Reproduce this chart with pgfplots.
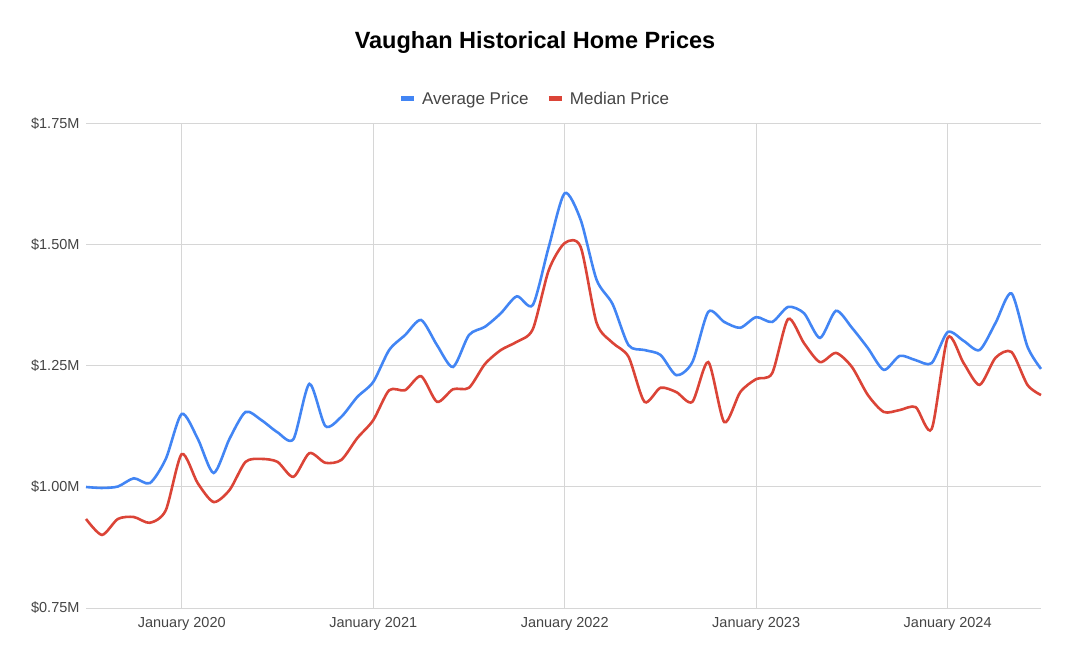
\documentclass[border=0pt]{standalone}
\usepackage{fontspec}
\setmainfont{Liberation Sans}
\usepackage{pgfplots}
\pgfplotsset{compat=1.18}
\definecolor{avgblue}{HTML}{4285F4}
\definecolor{medred}{HTML}{DB4437}
\definecolor{gridgray}{HTML}{D6D6D6}
\definecolor{txtgray}{HTML}{444444}
\begin{document}
\begin{tikzpicture}
\useasboundingbox (0,0) rectangle (1071bp,655bp);
\begin{axis}[
  at={(86bp,47bp)}, anchor=south west,
  scale only axis, width=955bp, height=484bp,
  xmin=0, xmax=59.85, ymin=0.75, ymax=1.75,
  xtick={6,18,30,42,54},
  xticklabels={January 2020,January 2021,January 2022,January 2023,January 2024},
  ytick={0.75,1.00,1.25,1.50,1.75},
  yticklabels={\$0.75M,\$1.00M,\$1.25M,\$1.50M,\$1.75M},
  grid=major,
  major grid style={gridgray, line width=1bp},
  axis line style={draw=none},
  tick style={draw=none},
  ticklabel style={font=\fontsize{14.5bp}{16bp}\selectfont, text=txtgray},
  xticklabel style={yshift=-6bp},
  yticklabel style={xshift=-3bp},
  legend columns=2,
  legend style={draw=none, fill=none, at={(rel axis cs:0.470,1.0517)}, anchor=center,
    font=\fontsize{17bp}{19bp}\selectfont, text=txtgray,
    /tikz/every even column/.append style={column sep=16bp}},
  legend image code/.code={\path[draw=none,fill=none] (0bp,0bp) -- (19bp,0bp);\draw[line width=5bp,#1] (0bp,0bp) -- (13bp,0bp);},
  clip=false,
]
\addplot[avgblue, line width=2.6bp, smooth, tension=0.45] coordinates {
(0,1.000)(1,0.998)(2,1.001)(3,1.018)(4,1.008)(5,1.058)(6,1.151)(7,1.100)(8,1.029)(9,1.100)
(10,1.155)(11,1.138)(12,1.113)(13,1.099)(14,1.213)(15,1.126)(16,1.145)(17,1.186)(18,1.217)(19,1.283)
(20,1.314)(21,1.345)(22,1.293)(23,1.248)(24,1.314)(25,1.331)(26,1.359)(27,1.394)(28,1.376)(29,1.496)
(30,1.607)(31,1.552)(32,1.428)(33,1.378)(34,1.293)(35,1.283)(36,1.273)(37,1.231)(38,1.258)(39,1.362)
(40,1.341)(41,1.329)(42,1.351)(43,1.341)(44,1.372)(45,1.359)(46,1.308)(47,1.364)(48,1.329)(49,1.287)
(50,1.242)(51,1.271)(52,1.262)(53,1.256)(54,1.320)(55,1.302)(56,1.283)(57,1.339)(58,1.400)(59,1.290)
(59.85,1.244)
};
\addlegendentry{Average Price}
\addplot[medred, line width=2.6bp, smooth, tension=0.45] coordinates {
(0,0.934)(1,0.901)(2,0.934)(3,0.938)(4,0.926)(5,0.952)(6,1.068)(7,1.008)(8,0.969)(9,0.994)
(10,1.052)(11,1.058)(12,1.052)(13,1.021)(14,1.070)(15,1.050)(16,1.056)(17,1.101)(18,1.138)(19,1.200)
(20,1.200)(21,1.229)(22,1.176)(23,1.202)(24,1.205)(25,1.254)(26,1.283)(27,1.300)(28,1.326)(29,1.448)
(30,1.504)(31,1.496)(32,1.339)(33,1.298)(34,1.269)(35,1.176)(36,1.205)(37,1.196)(38,1.176)(39,1.258)
(40,1.134)(41,1.196)(42,1.223)(43,1.235)(44,1.347)(45,1.297)(46,1.258)(47,1.277)(48,1.248)(49,1.190)
(50,1.155)(51,1.159)(52,1.165)(53,1.120)(54,1.308)(55,1.256)(56,1.211)(57,1.267)(58,1.279)(59,1.211)
(59.85,1.190)
};
\addlegendentry{Median Price}
\end{axis}
\node[font=\bfseries\fontsize{23.5bp}{26bp}\selectfont, anchor=center] at (535bp,613bp) {Vaughan Historical Home Prices};
\end{tikzpicture}
\end{document}
